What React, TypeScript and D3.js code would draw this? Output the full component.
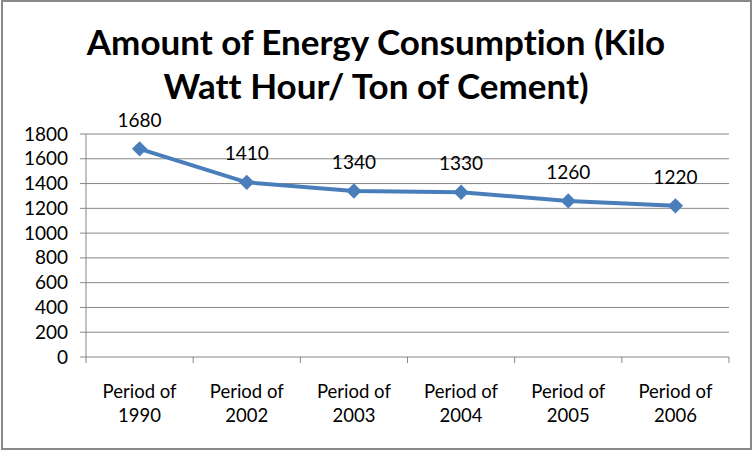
import * as d3 from "d3";

const categories = ["1990", "2002", "2003", "2004", "2005", "2006"];
const values = [1680, 1410, 1340, 1330, 1260, 1220];
const yTicks = [0, 200, 400, 600, 800, 1000, 1200, 1400, 1600, 1800];
const titleLines = ["Amount of Energy Consumption (Kilo", "Watt Hour/ Ton of Cement)"];

const FONT = "Lato, 'Open Sans', sans-serif";
const LINE = "#4a7ebb";
const GRID = "#868686";

export default function App() {
  const width = 753;
  const height = 451;
  const plot = { left: 86, right: 729, top: 134, bottom: 357 };

  const x = d3.scaleBand<string>().domain(categories).range([plot.left, plot.right]).padding(0);
  const y = d3.scaleLinear().domain([0, 1800]).range([plot.bottom, plot.top]);
  const cx = (c: string) => (x(c) ?? 0) + x.bandwidth() / 2;

  const line = d3.line<number>()
    .x((_, i) => cx(categories[i]))
    .y(d => y(d));

  const diamond = d3.symbol().type(d3.symbolDiamond2).size(150)();

  const bounds = [...categories.map(c => x(c) ?? 0), plot.right];
  const txt = { fontFamily: FONT, fontVariantLigatures: "none" } as const;

  return (
    <svg width={width} height={height} style={{ position: "absolute", left: 0, top: 0, background: "#fff" }}>
      <rect x={2} y={1} width={749} height={448} fill="#fff" stroke="#898989" strokeWidth={2} />

      {titleLines.map((t, i) => (
        <text key={t} x={376} y={55 + i * 44} textAnchor="middle" style={txt}
          fontWeight={700} fontSize={35} fill="#000">{t}</text>
      ))}

      {yTicks.map(t => (
        <g key={t}>
          <line x1={plot.left - 6} x2={plot.right} y1={y(t)} y2={y(t)} stroke={GRID} strokeWidth={1} />
          <text x={68} y={y(t) + 6.5} textAnchor="end" style={txt} fontSize={19} fill="#000">{t}</text>
        </g>
      ))}

      <line x1={plot.left} x2={plot.left} y1={plot.top} y2={plot.bottom} stroke={GRID} strokeWidth={1} />
      {bounds.map((b, i) => (
        <line key={i} x1={b} x2={b} y1={plot.bottom} y2={plot.bottom + 6} stroke={GRID} strokeWidth={1} />
      ))}

      {categories.map(c => (
        <text key={c} textAnchor="middle" style={txt} fontSize={18.5} fill="#000">
          <tspan x={cx(c)} y={398}>Period of</tspan>
          <tspan x={cx(c)} y={422}>{c}</tspan>
        </text>
      ))}

      <path d={line(values) ?? ""} fill="none" stroke={LINE} strokeWidth={4} strokeLinejoin="round" />
      {values.map((v, i) => (
        <g key={i} transform={`translate(${cx(categories[i])},${y(v)})`}>
          <path d={diamond ?? ""} fill={LINE} />
          <text y={-22} textAnchor="middle" style={txt} fontSize={19} fill="#000">{v}</text>
        </g>
      ))}
    </svg>
  );
}
